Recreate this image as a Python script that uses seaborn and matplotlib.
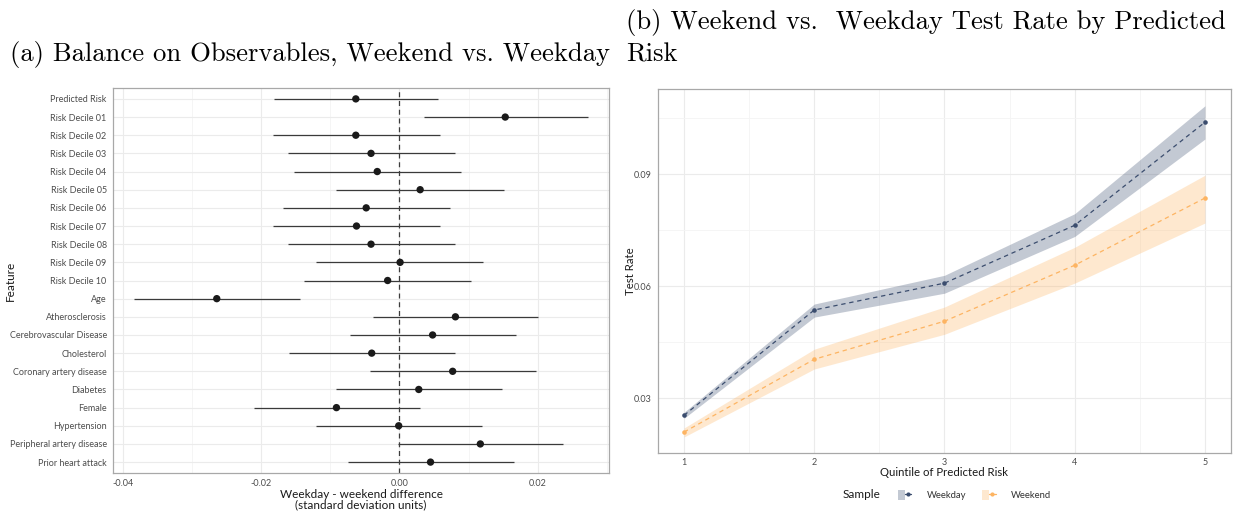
import matplotlib
matplotlib.use("Agg")
import matplotlib.pyplot as plt
import numpy as np
import pandas as pd
import seaborn as sns
from matplotlib.lines import Line2D
from matplotlib.patches import Patch
from matplotlib.ticker import MultipleLocator
from matplotlib.legend_handler import HandlerTuple

# ---- Panel (a): balance on observables ----
features = [
    "Predicted Risk", "Risk Decile 01", "Risk Decile 02", "Risk Decile 03",
    "Risk Decile 04", "Risk Decile 05", "Risk Decile 06", "Risk Decile 07",
    "Risk Decile 08", "Risk Decile 09", "Risk Decile 10", "Age",
    "Atherosclerosis", "Cerebrovascular Disease", "Cholesterol",
    "Coronary artery disease", "Diabetes", "Female", "Hypertension",
    "Peripheral artery disease", "Prior heart attack",
]
diff_est = [-0.0063, 0.0153, -0.0063, -0.0041, -0.0032, 0.0030, -0.0048,
            -0.0062, -0.0041, 0.0001, -0.0017, -0.0264, 0.0081, 0.0048,
            -0.0040, 0.0077, 0.0028, -0.0091, -0.0001, 0.0117, 0.0045]
diff_lo = [-0.0181, 0.0035, -0.0183, -0.0161, -0.0152, -0.0091, -0.0168,
           -0.0183, -0.0161, -0.0120, -0.0138, -0.0383, -0.0038, -0.0071,
           -0.0159, -0.0042, -0.0091, -0.0210, -0.0120, -0.0002, -0.0075]
diff_hi = [0.0056, 0.0272, 0.0058, 0.0080, 0.0089, 0.0151, 0.0073,
           0.0058, 0.0080, 0.0121, 0.0103, -0.0144, 0.0201, 0.0168,
           0.0080, 0.0197, 0.0148, 0.0030, 0.0119, 0.0237, 0.0166]
diff_ticks = [-0.04, -0.02, 0.00, 0.02]
diff_tick_labels = ["-0.04", "-0.02", "0.00", "0.02"]

# ---- Panel (b): test rate by predicted-risk quintile ----
quintiles = [1, 2, 3, 4, 5]
weekday_rate = [0.0254, 0.0536, 0.0608, 0.0763, 0.1039]
weekday_lo = [0.0246, 0.0517, 0.0581, 0.0733, 0.0994]
weekday_hi = [0.0262, 0.0552, 0.0629, 0.0794, 0.1083]
weekend_rate = [0.0209, 0.0404, 0.0506, 0.0656, 0.0836]
weekend_lo = [0.0196, 0.0378, 0.0471, 0.0608, 0.0769]
weekend_hi = [0.0220, 0.0431, 0.0544, 0.0704, 0.0897]
rate_ticks = [0.03, 0.06, 0.09]
rate_tick_labels = ["0.03", "0.06", "0.09"]
samples = ["Weekday", "Weekend"]

sample_colors = {"Weekday": "#3b4d6e", "Weekend": "#fdb462"}

sns.set_theme(style="white")
plt.rcParams["font.family"] = ["Lato", "DejaVu Sans"]

TICK_C = "#4d4d4d"
GRID_MAJ = "#ebebeb"
GRID_MIN = "#f4f4f4"
BORDER = "#a8a8a8"
TITLE_C = "#1a1a1a"

W, H = 1247, 512
fig = plt.figure(figsize=(W / 100, H / 100), dpi=100)
ax1 = fig.add_axes([113 / W, 1 - 473 / H, (609 - 113) / W, (473 - 88) / H])
ax2 = fig.add_axes([658 / W, 1 - 453 / H, (1231 - 658) / W, (453 - 89) / H])


def style_axes(ax):
    for s in ax.spines.values():
        s.set_color(BORDER)
        s.set_linewidth(0.9)
    ax.tick_params(axis="both", which="major", length=3, width=0.6,
                   color="#666666", labelcolor=TICK_C, labelsize=6.5, pad=1.5)
    ax.tick_params(axis="both", which="minor", length=0)
    ax.set_axisbelow(True)


# ---- (a) coefficient plot ----
bal = pd.DataFrame({"feature": features, "diff": diff_est,
                    "lo": diff_lo, "hi": diff_hi})
ypos = np.arange(len(features))
ax1.hlines(ypos, bal["lo"], bal["hi"], color="#3a3a3a", lw=0.9, zorder=2)
sns.scatterplot(data=bal.assign(y=ypos), x="diff", y="y", ax=ax1,
                color="#1a1a1a", s=28, edgecolor="none", zorder=3, legend=False)
ax1.axvline(0, color="#3c3c3c", lw=0.9, ls=(0, (4, 3)), zorder=2.5)
ax1.set_ylim(len(features) - 0.4, -0.6)
ax1.set_xlim(-0.0414, 0.0303)
ax1.set_yticks(ypos)
ax1.set_yticklabels(features)
ax1.set_xticks(diff_ticks)
ax1.set_xticklabels(diff_tick_labels)
ax1.xaxis.set_minor_locator(MultipleLocator(0.01))
ax1.grid(axis="x", which="major", color=GRID_MAJ, lw=0.8)
ax1.grid(axis="x", which="minor", color=GRID_MIN, lw=0.6)
ax1.grid(axis="y", which="major", color=GRID_MAJ, lw=0.8)
style_axes(ax1)
ax1.set_xlabel("Weekday - weekend difference\n(standard deviation units)",
               fontsize=8.5, color=TITLE_C, labelpad=0.5, linespacing=0.95)
ax1.set_ylabel("Feature", fontsize=8.5, color=TITLE_C, va="center")
ax1.yaxis.set_label_coords((10 - 113) / (609 - 113), 0.5)

# ---- (b) test rate lines with confidence bands ----
rates = pd.DataFrame({
    "quintile": quintiles * 2,
    "rate": weekday_rate + weekend_rate,
    "lo": weekday_lo + weekend_lo,
    "hi": weekday_hi + weekend_hi,
    "Sample": ["Weekday"] * 5 + ["Weekend"] * 5,
})
for name in samples:
    sub = rates[rates["Sample"] == name]
    ax2.fill_between(sub["quintile"], sub["lo"], sub["hi"],
                     color=sample_colors[name], alpha=0.3, lw=0, zorder=1)
sns.lineplot(data=rates, x="quintile", y="rate", hue="Sample",
             palette=sample_colors, hue_order=samples, ax=ax2,
             linestyle=(0, (3.5, 3)), lw=0.9, marker="o", markersize=3.3,
             markeredgewidth=0, errorbar=None, legend=False, zorder=3)
ax2.set_xlim(0.8, 5.2)
ax2.set_ylim(0.0153, 0.1128)
ax2.set_xticks(quintiles)
ax2.set_xticklabels([str(q) for q in quintiles])
ax2.set_yticks(rate_ticks)
ax2.set_yticklabels(rate_tick_labels)
ax2.xaxis.set_minor_locator(MultipleLocator(0.5))
ax2.yaxis.set_minor_locator(MultipleLocator(0.015))
ax2.grid(which="major", color=GRID_MAJ, lw=0.8)
ax2.grid(which="minor", color=GRID_MIN, lw=0.6)
style_axes(ax2)
ax2.tick_params(axis="x", which="major", pad=0.5)
ax2.set_xlabel("Quintile of Predicted Risk", fontsize=8.2, color=TITLE_C, labelpad=0)
ax2.set_ylabel("Test Rate", fontsize=8.2, color=TITLE_C, va="center")
ax2.yaxis.set_label_coords((630 - 658) / (1231 - 658), 0.5)

# legend below panel (b)
handles = []
for name in samples:
    c = sample_colors[name]
    handles.append((Patch(facecolor=c, alpha=0.3, edgecolor="none"),
                    Line2D([], [], color=c, lw=0.9, marker="o", markersize=3,
                           markeredgewidth=0)))
fig.text(843 / W, 1 - 495 / H, "Sample", fontsize=8.5, color=TITLE_C,
         ha="left", va="center")
fig.legend(handles, samples, loc="center left",
           bbox_to_anchor=(893 / W, 1 - 495 / H), ncol=2, frameon=False,
           fontsize=6.8, handlelength=1.45, handleheight=1.4, handletextpad=1.6,
           columnspacing=1.7, borderpad=0, labelcolor="#333333",
           handler_map={tuple: HandlerTuple(ndivide=None, pad=0)})

# ---- panel captions ----
cap_font = dict(family="cmr10", fontsize=19.2, color="black", va="baseline")
fig.text(10 / W, 1 - 61 / H, "(a) Balance on Observables, Weekend vs. Weekday",
         ha="left", **cap_font)
fig.text(626 / W, 1 - 29 / H, "(b) Weekend vs.  Weekday Test Rate by Predicted",
         ha="left", **cap_font)
fig.text(626 / W, 1 - 61 / H, "Risk", ha="left", **cap_font)

fig.savefig("out.png", dpi=100)
